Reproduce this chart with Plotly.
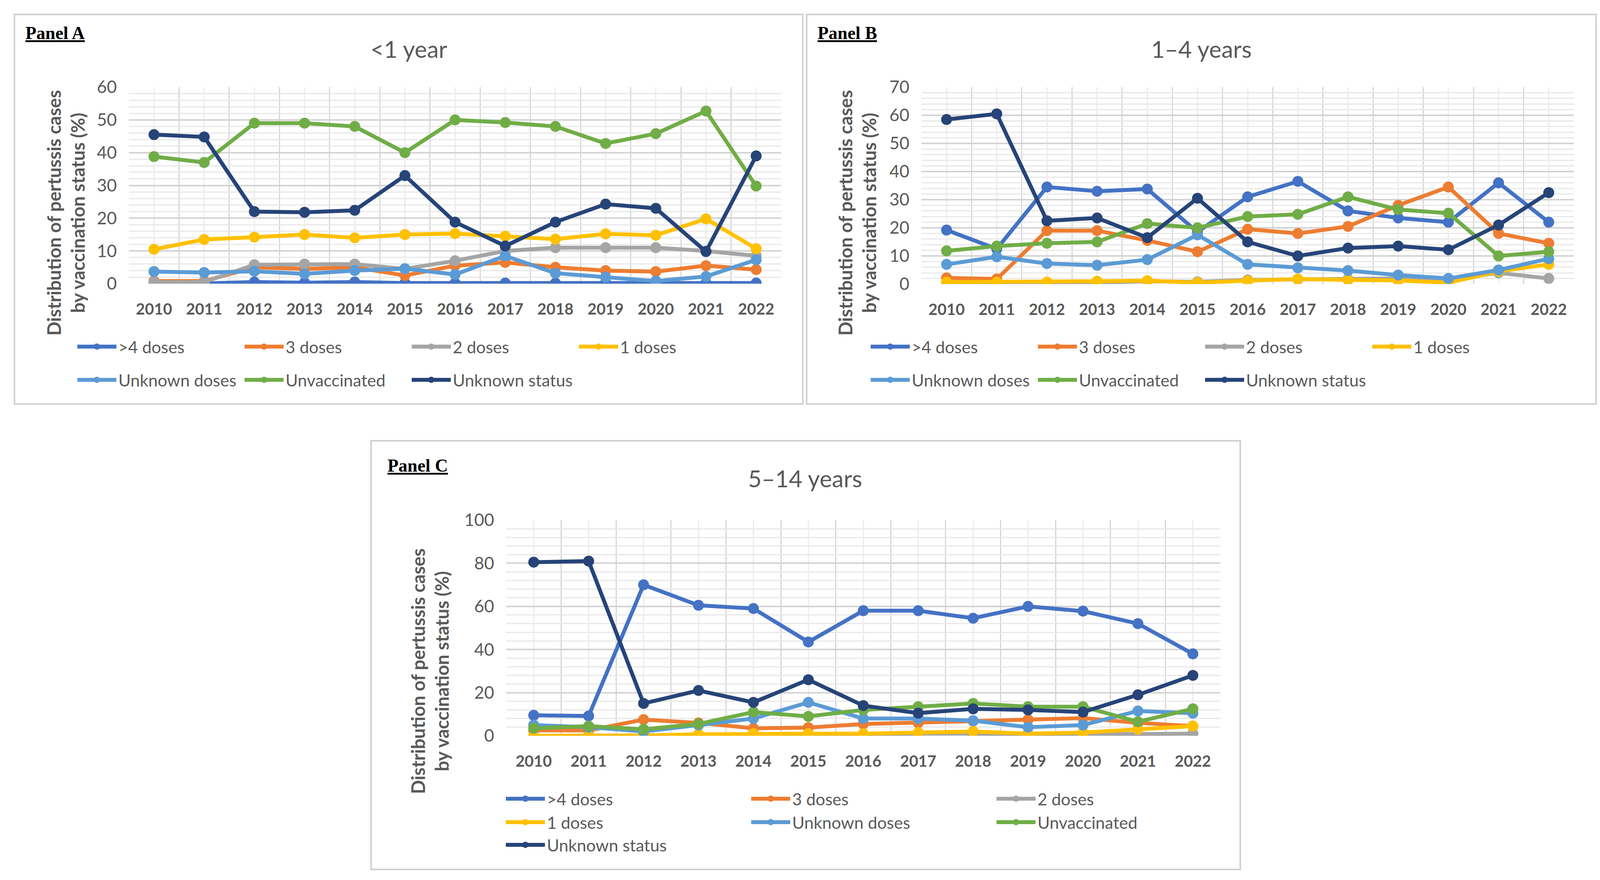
import plotly.graph_objects as go

W, H = 4115, 2252
OFF = 8  # default page body margin
FW, FH = W - 2 * OFF, H - 2 * OFF

years = list(range(2010, 2023))
series_names = [">4 doses", "3 doses", "2 doses", "1 doses", "Unknown doses", "Unvaccinated", "Unknown status"]
colors = ["#4472C4", "#ED7D31", "#A5A5A5", "#FFC000", "#5B9BD5", "#70AD47", "#264478"]

# Panel A: <1 year
a_gt4 = [0.1, 0.1, 0.5, 0.3, 0.5, 0.2, 0.2, 0.2, 0.2, 0.3, 0.2, 0.2, 0.2]
a_3 = [0.8, 0.8, 5.0, 4.5, 5.0, 2.5, 5.5, 6.5, 5.0, 4.0, 3.7, 5.5, 4.3]
a_2 = [0.5, 0.5, 5.8, 6.0, 6.0, 4.5, 7.0, 10.0, 11.0, 11.0, 11.0, 10.0, 8.5]
a_1 = [10.5, 13.5, 14.2, 15.0, 14.0, 15.0, 15.3, 14.5, 13.6, 15.2, 14.8, 19.8, 10.7]
a_unkd = [3.7, 3.4, 3.8, 3.0, 4.0, 4.6, 2.8, 8.5, 3.2, 2.0, 0.8, 2.2, 7.3]
a_unvac = [38.8, 37.0, 49.0, 49.0, 48.0, 40.0, 50.0, 49.2, 48.0, 42.8, 45.8, 52.7, 29.8]
a_unks = [45.5, 44.8, 22.0, 21.8, 22.4, 33.0, 18.8, 11.5, 18.8, 24.3, 23.0, 9.8, 39.0]

# Panel B: 1-4 years
b_gt4 = [19.2, 12.5, 34.5, 33.0, 33.8, 18.5, 31.0, 36.5, 26.0, 23.5, 22.0, 36.0, 22.0]
b_3 = [2.2, 1.8, 19.0, 19.0, 15.5, 11.5, 19.5, 18.0, 20.5, 28.0, 34.5, 18.0, 14.5]
b_2 = [0.2, 0.2, 0.5, 0.5, 1.0, 0.8, 1.5, 1.7, 1.8, 2.0, 1.5, 4.0, 2.0]
b_1 = [0.7, 0.7, 0.7, 1.0, 1.2, 0.5, 1.2, 1.8, 1.5, 1.3, 0.5, 4.5, 7.0]
b_unkd = [7.0, 9.7, 7.3, 6.7, 8.7, 17.5, 7.0, 5.8, 4.8, 3.2, 2.0, 5.0, 9.0]
b_unvac = [11.8, 13.5, 14.5, 15.0, 21.5, 20.0, 24.0, 24.8, 31.0, 26.5, 25.2, 10.0, 11.5]
b_unks = [58.5, 60.5, 22.5, 23.5, 16.5, 30.5, 15.0, 10.0, 12.8, 13.5, 12.2, 21.0, 32.5]

# Panel C: 5-14 years
c_gt4 = [9.5, 9.2, 70.0, 60.5, 59.0, 43.5, 58.0, 58.0, 54.5, 60.0, 57.8, 52.0, 38.0]
c_3 = [2.5, 2.5, 7.5, 6.0, 3.5, 3.8, 5.5, 6.0, 6.8, 7.5, 8.2, 6.0, 4.5]
c_2 = [0.0, 0.0, 0.0, 0.3, 0.5, 0.5, 0.5, 1.0, 1.0, 0.5, 1.0, 0.8, 1.0]
c_1 = [0.0, 0.0, 0.2, 0.7, 1.0, 1.0, 1.0, 1.5, 2.0, 1.0, 1.5, 3.0, 4.5]
c_unkd = [5.0, 4.0, 2.0, 5.0, 8.0, 15.5, 8.0, 8.0, 7.0, 4.0, 5.0, 11.5, 10.5]
c_unvac = [3.5, 4.5, 3.0, 5.5, 11.0, 9.0, 12.0, 13.5, 15.0, 13.5, 13.5, 6.5, 12.5]
c_unks = [80.5, 81.0, 15.0, 21.0, 15.5, 26.0, 14.0, 10.5, 12.5, 12.0, 11.0, 19.0, 28.0]

panel_titles = ["<1 year", "1\u20134 years", "5\u201314 years"]
panel_labels = ["Panel A", "Panel B", "Panel C"]
y_max = [60, 70, 100]
y_dtick = [10, 10, 20]
y_minor = [2, 2, 4]

panels_data = [
    [a_gt4, a_3, a_2, a_1, a_unkd, a_unvac, a_unks],
    [b_gt4, b_3, b_2, b_1, b_unkd, b_unvac, b_unks],
    [c_gt4, c_3, c_2, c_1, c_unkd, c_unvac, c_unks],
]

# layout geometry in page pixels (x0, x1, ytop, ybottom)
plot_px = [(330, 2000, 223, 726), (2359, 4029, 223, 727), (1296, 3124, 1331, 1883)]
box_px = [(37, 37, 2055, 1034), (2065, 37, 4086, 1034), (950, 1128, 3175, 2225)]
title_px = [(1046, 125), (3076, 125), (2061, 1224)]
label_px = [(63, 85), (2091, 85), (990, 1191)]
ytitle_px = [(168, 545), (2194, 545), (1100, 1718)]
# legend rows: (x_left, y_center, [series indices])
legend_rows = [
    [(193, 887, [0, 1, 2, 3]), (193, 972, [4, 5, 6])],
    [(2224, 887, [0, 1, 2, 3]), (2224, 972, [4, 5, 6])],
    [(1290, 2044, [0, 1, 2]), (1290, 2104, [3, 4, 5]), (1290, 2162, [6])],
]
legend_entry_w = [313, 313, 513]

FONT = "Lato"
GRAY = "#595959"

def px_x(x):
    return (x - OFF) / FW

def px_y(y):
    return 1 - (y - OFF) / FH

fig = go.Figure()
layout = dict(
    width=FW, height=FH,
    margin=dict(l=0, r=0, t=0, b=0, autoexpand=False),
    paper_bgcolor="white", plot_bgcolor="white",
    font=dict(family=FONT, color=GRAY),
)
annotations = []
shapes = []
legend_counter = 0

for p in range(3):
    ax_suffix = "" if p == 0 else str(p + 1)
    x0, x1, yt, yb = plot_px[p]
    row_legend_of_series = {}
    for (lx, ly, idxs) in legend_rows[p]:
        legend_counter += 1
        lname = "legend" if legend_counter == 1 else f"legend{legend_counter}"
        for i in idxs:
            row_legend_of_series[i] = lname
        layout[lname] = dict(
            x=px_x(lx), y=px_y(ly), xanchor="left", yanchor="middle",
            orientation="h", bgcolor="rgba(0,0,0,0)",
            font=dict(family=FONT, size=43, color=GRAY),
            itemwidth=100, entrywidth=legend_entry_w[p], entrywidthmode="pixels",
            traceorder="normal", borderwidth=0, itemclick=False,
        )
    for i, name in enumerate(series_names):
        fig.add_trace(go.Scatter(
            x=years, y=panels_data[p][i], name=name,
            mode="lines+markers",
            line=dict(color=colors[i], width=10),
            marker=dict(color=colors[i], size=28, symbol="circle"),
            xaxis="x" + ax_suffix, yaxis="y" + ax_suffix,
            legend=row_legend_of_series[i],
        ))
    layout["xaxis" + ax_suffix] = dict(
        domain=[px_x(x0), px_x(x1)], anchor="y" + ax_suffix,
        range=[2009.5, 2022.5], tickmode="array", tickvals=years,
        ticktext=[str(y) for y in years],
        showgrid=True, gridcolor="#ECECEC", gridwidth=3,
        minor=dict(tick0=2009.5, dtick=1, showgrid=True, gridcolor="#D6D6D6", gridwidth=3),
        showline=False, zeroline=False, ticks="",
        tickfont=dict(family=FONT, size=40, color=GRAY, weight="bold"),
        ticklabelstandoff=38, fixedrange=True,
    )
    layout["yaxis" + ax_suffix] = dict(
        domain=[px_y(yb), px_y(yt)], anchor="x" + ax_suffix,
        range=[0, y_max[p]], dtick=y_dtick[p], tick0=0,
        showgrid=True, gridcolor="#D4D4D4", gridwidth=4,
        minor=dict(dtick=y_minor[p], showgrid=True, gridcolor="#E8E8E8", gridwidth=3),
        showline=False, zeroline=False, ticks="",
        tickfont=dict(family=FONT, size=44, color=GRAY),
        ticklabelstandoff=30, fixedrange=True,
    )
    bx0, by0, bx1, by1 = box_px[p]
    shapes.append(dict(type="rect", xref="paper", yref="paper",
                       x0=px_x(bx0), x1=px_x(bx1), y0=px_y(by1), y1=px_y(by0),
                       line=dict(color="#D0D0D0", width=4), fillcolor="rgba(0,0,0,0)",
                       layer="below"))
    tx, ty = title_px[p]
    annotations.append(dict(text=panel_titles[p], x=px_x(tx), y=px_y(ty), xref="paper", yref="paper",
                            xanchor="center", yanchor="middle", showarrow=False,
                            font=dict(family=FONT, size=60, color=GRAY)))
    lx, ly = label_px[p]
    annotations.append(dict(text="<u>" + panel_labels[p] + "</u>", x=px_x(lx), y=px_y(ly), xref="paper", yref="paper",
                            xanchor="left", yanchor="middle", showarrow=False,
                            font=dict(family="Liberation Serif", size=46, color="black", weight="bold")))
    yx, yy = ytitle_px[p]
    annotations.append(dict(text="Distribution of pertussis cases<br>by vaccination status (%)",
                            x=px_x(yx), y=px_y(yy), xref="paper", yref="paper",
                            xanchor="center", yanchor="middle", showarrow=False, textangle=-90,
                            font=dict(family=FONT, size=47, color=GRAY, weight="bold")))

layout["annotations"] = annotations
layout["shapes"] = shapes
fig.update_layout(**layout)
fig.write_html("out.html")
